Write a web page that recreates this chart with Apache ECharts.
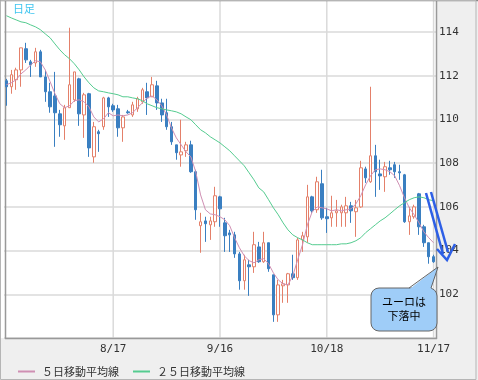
<!DOCTYPE html>
<html><head><meta charset="utf-8">
<script src="https://cdn.jsdelivr.net/npm/echarts@6/dist/echarts.min.js"></script>
<style>html,body{margin:0;padding:0;background:#fff}#c{width:478px;height:380px}</style>
</head><body><div id="c"></div>
<script>
const dates = ['7/18','7/19','7/20','7/21','7/22','7/25','7/26','7/27','7/28','7/29',
'8/1','8/2','8/3','8/4','8/5','8/8','8/9','8/10','8/11','8/12','8/15','8/16',
'8/17','8/18','8/19','8/22','8/23','8/24','8/25','8/26','8/29','8/30','8/31',
'9/1','9/2','9/5','9/6','9/7','9/8','9/9','9/12','9/13','9/14','9/15',
'9/16','9/19','9/20','9/21','9/22','9/23','9/26','9/27','9/28','9/29','9/30',
'10/3','10/4','10/5','10/6','10/7','10/10','10/11','10/12','10/13','10/14','10/17',
'10/18','10/19','10/20','10/21','10/24','10/25','10/26','10/27','10/28','10/31',
'11/1','11/2','11/3','11/4','11/7','11/8','11/9','11/10','11/11','11/14','11/15','11/16','11/17'];
const shownDates = ['8/17','9/16','10/18','11/17'];
const yTicks = [102,104,106,108,110,112,114];

const open = [111.77,111.50,111.82,112.27,113.24,112.64,112.59,113.10,111.95,111.27,
111.08,110.26,109.71,110.54,110.90,111.86,110.21,111.18,108.29,109.44,
109.67,110.99,110.63,110.49,109.62,110.35,110.21,110.49,110.81,111.27,
111.04,111.54,110.76,110.31,109.67,108.84,108.38,108.57,108.84,107.61,
105.14,105.36,105.18,105.32,106.46,105.27,104.81,104.72,103.85,102.62,
103.35,103.26,104.17,103.49,104.36,102.89,101.06,102.39,102.43,102.94,
102.76,104.49,104.63,106.46,105.87,107.06,105.55,105.50,105.73,105.73,
105.73,106.05,105.78,106.00,107.74,107.15,108.34,107.51,107.38,107.79,
107.93,107.61,107.47,105.32,105.55,106.60,105.09,104.36,103.72];
const close = [111.50,112.05,112.27,113.28,112.73,112.50,113.10,111.95,111.27,110.58,
110.31,109.76,110.54,111.59,112.18,110.26,111.13,108.70,109.67,109.35,
110.99,110.58,110.44,109.62,110.12,110.31,110.67,110.95,111.36,110.99,
111.59,110.76,110.21,109.67,108.98,108.48,108.52,108.84,107.61,105.87,
105.32,105.23,105.36,106.51,105.91,104.68,104.72,103.85,102.62,103.58,
103.26,104.27,103.49,104.36,103.17,101.06,102.43,102.48,102.94,102.76,
104.49,104.68,106.46,105.82,107.15,105.50,105.46,105.73,105.82,106.00,
106.05,105.82,105.96,107.79,107.33,108.34,107.61,107.42,107.84,107.70,
107.61,107.56,105.32,105.59,106.00,105.09,104.36,103.72,103.49];
const low = [110.63,111.18,111.36,111.50,112.59,111.95,112.41,111.95,110.81,110.31,
108.75,109.21,109.07,110.54,110.81,109.71,109.16,108.29,108.02,108.52,
109.53,110.12,110.35,109.21,108.98,110.26,110.12,110.35,110.72,110.21,
111.04,110.44,109.89,109.53,108.84,108.16,107.84,108.29,107.56,105.41,
103.90,104.40,104.49,105.09,105.09,103.94,103.94,103.67,102.21,102.21,
101.93,102.98,103.44,103.44,103.03,100.74,100.74,101.61,101.61,102.66,
102.66,103.94,104.36,105.73,105.73,105.41,104.81,105.09,105.09,105.09,
105.09,105.27,104.63,105.96,107.10,107.10,106.46,106.78,106.69,107.47,
107.33,107.24,105.27,104.72,105.46,104.72,104.17,103.40,103.44];
const high = [111.86,112.27,112.37,113.28,113.51,112.73,113.28,113.19,112.27,111.68,
112.18,110.44,110.67,114.20,112.18,111.91,111.22,111.22,109.89,109.53,
111.04,111.04,110.72,110.67,110.21,110.44,110.81,111.04,111.45,111.68,
111.95,111.77,110.95,110.95,109.89,108.84,109.99,108.98,109.03,107.70,
105.73,105.55,105.55,106.92,106.51,105.50,104.95,104.86,103.94,103.81,
103.58,104.86,104.40,104.86,104.36,102.89,102.66,102.66,102.98,103.81,
104.59,104.86,107.01,106.51,107.38,107.70,105.96,106.51,106.32,106.10,
106.46,106.23,106.32,108.11,107.84,111.50,108.84,108.16,108.06,108.11,
108.06,107.93,107.51,106.00,106.10,106.64,105.18,104.36,103.81];

const ma5 = [111.59,111.68,111.82,112.09,112.27,112.50,112.69,112.64,112.27,111.73,
111.18,110.72,110.54,110.63,110.86,110.90,110.81,110.58,110.12,109.89,
110.03,110.31,110.17,110.21,110.17,110.21,110.31,110.54,110.76,110.99,
111.08,110.90,110.63,110.21,109.62,109.16,108.84,108.52,108.29,107.61,
106.55,105.87,105.68,105.64,105.55,105.41,105.14,104.59,104.13,103.76,
103.54,103.44,103.58,103.63,103.40,102.98,102.66,102.48,102.43,102.85,
103.58,104.27,105.18,105.78,106.00,105.96,105.91,105.82,105.87,105.82,
105.87,105.91,106.14,106.51,107.01,107.42,107.70,107.74,107.70,107.61,
107.42,106.97,106.42,105.96,105.64,105.27,104.86,104.59,104.36];
const ma25 = [114.75,114.65,114.56,114.47,114.43,114.33,114.24,114.11,113.92,113.74,
113.46,113.19,112.96,112.78,112.55,112.27,111.95,111.68,111.45,111.31,
111.27,111.22,111.18,111.13,111.04,111.04,110.99,110.95,110.86,110.72,
110.63,110.54,110.49,110.44,110.40,110.35,110.26,110.12,109.99,109.76,
109.53,109.39,109.21,109.07,108.93,108.75,108.57,108.34,108.11,107.88,
107.56,107.24,106.87,106.69,106.33,105.96,105.64,105.27,104.95,104.72,
104.59,104.49,104.36,104.27,104.27,104.27,104.27,104.27,104.27,104.31,
104.31,104.36,104.45,104.59,104.82,105.00,105.18,105.36,105.50,105.68,
105.87,106.05,106.19,106.33,106.42,106.46,106.42,106.33,106.28];

const ohlc = dates.map((d, i) => [open[i], close[i], low[i], high[i]]);
const chart = echarts.init(document.getElementById('c'), null, {renderer: 'canvas'});
const numFont = 'DejaVu Sans Mono';
const jpFont = '"Noto Sans CJK JP", sans-serif';
const showDate = (i) => shownDates.includes(dates[i]);
const baseGraphic = [
  {type: 'rect', shape: {x: 1, y: 1, width: 435, height: 337}, style: {fill: '#ffffff'}, silent: true, z: -10},
  {type: 'line', shape: {x1: 5.5, y1: 0, x2: 5.5, y2: 339}, style: {stroke: '#999', lineWidth: 1.5}, silent: true, z: 1},
  {type: 'line', shape: {x1: 436.5, y1: 0, x2: 436.5, y2: 339}, style: {stroke: '#999', lineWidth: 1.5}, silent: true, z: 1},
  {type: 'line', shape: {x1: 5, y1: 338.5, x2: 437, y2: 338.5}, style: {stroke: '#999', lineWidth: 1.5}, silent: true, z: 1},
  {type: 'line', shape: {x1: 0, y1: 0.5, x2: 478, y2: 0.5}, style: {stroke: '#888', lineWidth: 1.5}, silent: true, z: 1},
  {type: 'rect', shape: {x: 0.5, y: 0.5, width: 475.5, height: 379}, style: {fill: null, stroke: '#b5b5b5', lineWidth: 1}, silent: true, z: 1},
  {type: 'text', x: 13, y: 3, style: {text: '日足', fill: '#3ec5f0', font: '11px "Noto Sans CJK JP"'}, silent: true, z: 10},
  {type: 'polyline', shape: {points: [[426, 193], [443, 254]]}, style: {stroke: '#2d5fe6', lineWidth: 2.5}, silent: true, z: 100},
  {type: 'polyline', shape: {points: [[431, 192], [448, 252]]}, style: {stroke: '#2d5fe6', lineWidth: 2.5}, silent: true, z: 100},
  {type: 'polyline', shape: {points: [[437, 249], [447, 260], [455, 244]]}, style: {stroke: '#2d5fe6', lineWidth: 2.5, fill: null}, silent: true, z: 100},
  {type: 'rect', shape: {x: 371, y: 288, width: 66, height: 43, r: 8}, style: {fill: '#9fcdf8', stroke: '#666', lineWidth: 1}, silent: true, z: 100},
  {type: 'polygon', shape: {points: [[409, 289.5], [438, 267], [431, 289.5]]}, style: {fill: '#9fcdf8'}, silent: true, z: 101},
  {type: 'polyline', shape: {points: [[409, 288], [438, 267], [431, 288]]}, style: {stroke: '#666', lineWidth: 1, fill: null}, silent: true, z: 101},
  {type: 'text', x: 404, y: 302, style: {text: 'ユーロは', fill: '#000', font: '11px "Noto Sans CJK JP"', align: 'center', verticalAlign: 'middle'}, silent: true, z: 102},
  {type: 'text', x: 404, y: 316, style: {text: '下落中', fill: '#000', font: '11px "Noto Sans CJK JP"', align: 'center', verticalAlign: 'middle'}, silent: true, z: 102}
];
chart.setOption({
  animation: false,
  backgroundColor: '#efefef',
  grid: {left: 4, right: 42, top: 0, height: 338, show: false},
  legend: {
    left: 13, top: 361, itemWidth: 17, itemHeight: 2, itemGap: 14, icon: 'rect',
    data: ['５日移動平均線', '２５日移動平均線'],
    textStyle: {fontFamily: jpFont, fontSize: 11, color: '#333', padding: [0, 0, 0, 2]}
  },
  xAxis: {
    type: 'category', data: dates, boundaryGap: true,
    axisLine: {show: false}, axisTick: {show: false},
    axisLabel: {interval: showDate, margin: 6, color: '#333', fontSize: 11, fontFamily: numFont},
    splitLine: {show: false}
  },
  yAxis: {
    type: 'value', position: 'right', min: 100, max: 115.47, interval: 2, scale: true,
    axisLine: {show: false}, axisTick: {show: false},
    axisLabel: {margin: 3, color: '#333', fontSize: 11, fontFamily: numFont, showMinLabel: false, showMaxLabel: false,
      formatter: v => yTicks.includes(v) ? String(v) : ''},
    splitLine: {show: true, lineStyle: {color: '#dadada', width: 1.5}}
  },
  series: [
    {type: 'candlestick', name: 'price', data: ohlc, barWidth: 3, z: 3,
      itemStyle: {color: '#ffffff', color0: '#3a7fc1', borderColor: '#e4806a', borderColor0: '#3a7fc1', borderWidth: 1}},
    {type: 'line', name: '５日移動平均線', data: ma5, symbol: 'none', color: '#cf8fb3',
      lineStyle: {width: 1, color: '#cf8fb3'}, z: 4},
    {type: 'line', name: '２５日移動平均線', data: ma25, symbol: 'none', color: '#55cc90',
      lineStyle: {width: 1, color: '#55cc90'}, z: 4}
  ],
  graphic: baseGraphic
});
try {
  const gridLines = shownDates.map(d => {
    const x = chart.convertToPixel({xAxisIndex: 0}, dates.indexOf(d));
    return {type: 'line', shape: {x1: x, y1: 1, x2: x, y2: 338}, style: {stroke: '#dadada', lineWidth: 1.5}, silent: true, z: -5};
  }).filter(g => typeof g.shape.x1 === 'number' && isFinite(g.shape.x1));
  if (gridLines.length) chart.setOption({graphic: baseGraphic.concat(gridLines)});
} catch (e) {}
</script>
</body></html>
